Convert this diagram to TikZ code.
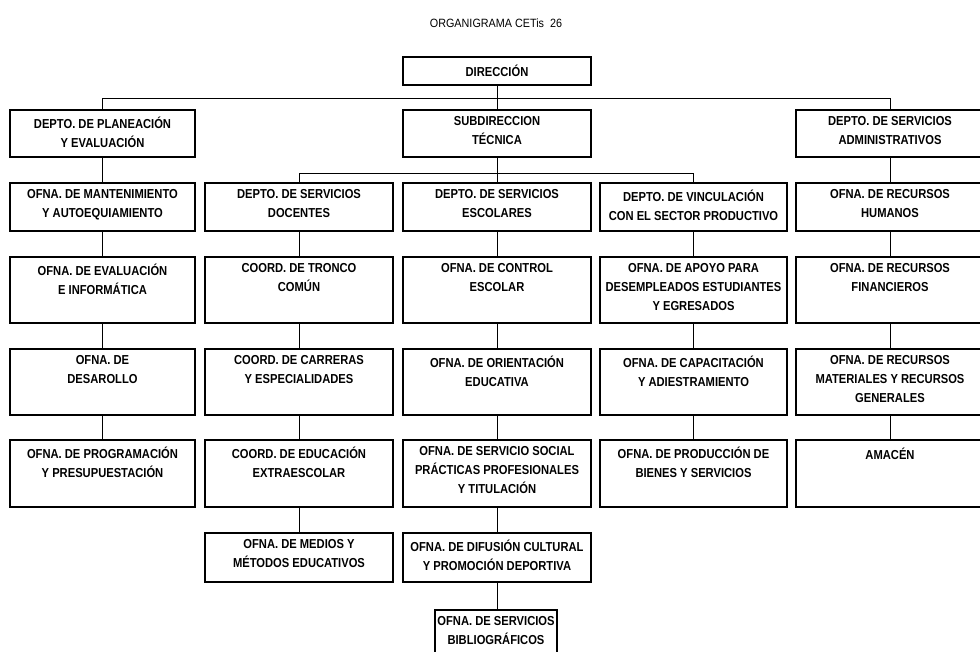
\documentclass[tikz,border=0pt]{standalone}
\usepackage{fontspec}
\setmainfont{Liberation Sans}
\newfontfamily\boxfont{Liberation Sans Bold}[FakeStretch=0.86]
\newfontfamily\titlefont{Liberation Sans}[FakeStretch=0.9]

% one box of the chart: name, centre x, centre y, width, height, text
\newcommand\orgbox[6]{%
  \node[box, minimum width=#4pt, minimum height=#5pt] (#1) at (#2,#3) {};
  \node[lbl] (#1-t) at ([yshift=-7pt]#1.north) {#6};
}

\tikzset{
  box/.style={draw=black, line width=1.3pt, fill=white, inner sep=0pt},
  lbl/.style={anchor=north, inner sep=0pt, align=center,
    font=\boxfont\fontsize{13}{19}\selectfont,
    execute at begin node={\rule{0pt}{13pt}}},
  conn/.style={draw=black, line width=1pt},
  titletext/.style={anchor=base, inner sep=0pt, font=\titlefont\fontsize{12}{14}\selectfont}
}

\begin{document}
\begin{tikzpicture}[x=1pt, y=-1pt]
\useasboundingbox (0,0) rectangle (980,651);
\fill[white] (0,0) rectangle (980,651);
\clip (0,0) rectangle (980,651);

\node[titletext] (title) at (496,27) {ORGANIGRAMA CETis\ \ 26};

% top levels
\orgbox{dir}{497}{71}{188}{28}{DIRECCIÓN}
\orgbox{plan}{102.5}{133.5}{185}{47}{DEPTO. DE PLANEACIÓN\\Y EVALUACIÓN}
\orgbox{subd}{497}{133.5}{188}{47}{SUBDIRECCION\\TÉCNICA}
\orgbox{admin}{890}{133.5}{188}{47}{DEPTO. DE SERVICIOS\\ADMINISTRATIVOS}

% column A
\orgbox{a1}{102.5}{207}{185}{48}{OFNA. DE MANTENIMIENTO\\Y AUTOEQUIAMIENTO}
\orgbox{a2}{102.5}{290}{185}{66}{OFNA. DE EVALUACIÓN\\E INFORMÁTICA}
\orgbox{a3}{102.5}{382}{185}{66}{OFNA. DE\\DESAROLLO}
\orgbox{a4}{102.5}{473.5}{185}{67}{OFNA. DE PROGRAMACIÓN\\Y PRESUPUESTACIÓN}

% column B
\orgbox{b1}{299}{207}{188}{48}{DEPTO. DE SERVICIOS\\DOCENTES}
\orgbox{b2}{299}{290}{188}{66}{COORD. DE TRONCO\\COMÚN}
\orgbox{b3}{299}{382}{188}{66}{COORD. DE CARRERAS\\Y ESPECIALIDADES}
\orgbox{b4}{299}{473.5}{188}{67}{COORD. DE EDUCACIÓN\\EXTRAESCOLAR}
\orgbox{b5}{299}{557.5}{188}{49}{OFNA. DE MEDIOS Y\\MÉTODOS EDUCATIVOS}

% column C
\orgbox{c1}{497}{207}{188}{48}{DEPTO. DE SERVICIOS\\ESCOLARES}
\orgbox{c2}{497}{290}{188}{66}{OFNA. DE CONTROL\\ESCOLAR}
\orgbox{c3}{497}{382}{188}{66}{OFNA. DE ORIENTACIÓN\\EDUCATIVA}
\orgbox{c4}{497}{473.5}{188}{67}{OFNA. DE SERVICIO SOCIAL\\PRÁCTICAS PROFESIONALES\\Y TITULACIÓN}
\orgbox{c5}{497}{557.5}{188}{49}{OFNA. DE DIFUSIÓN CULTURAL\\Y PROMOCIÓN DEPORTIVA}
\orgbox{c6}{496}{640}{122}{60}{OFNA. DE SERVICIOS\\BIBLIOGRÁFICOS}

% column D
\orgbox{d1}{693.5}{207}{187}{48}{DEPTO. DE VINCULACIÓN\\CON EL SECTOR PRODUCTIVO}
\orgbox{d2}{693.5}{290}{187}{66}{OFNA. DE APOYO PARA\\DESEMPLEADOS ESTUDIANTES\\Y EGRESADOS}
\orgbox{d3}{693.5}{382}{187}{66}{OFNA. DE CAPACITACIÓN\\Y ADIESTRAMIENTO}
\orgbox{d4}{693.5}{473.5}{187}{67}{OFNA. DE PRODUCCIÓN DE\\BIENES Y SERVICIOS}

% column E
\orgbox{e1}{890}{207}{188}{48}{OFNA. DE RECURSOS\\HUMANOS}
\orgbox{e2}{890}{290}{188}{66}{OFNA. DE RECURSOS\\FINANCIEROS}
\orgbox{e3}{890}{382}{188}{66}{OFNA. DE RECURSOS\\MATERIALES Y RECURSOS\\GENERALES}
\orgbox{e4}{890}{473.5}{188}{67}{AMACÉN}

% bus lines
\coordinate (bus1) at (0,98);
\coordinate (bus2) at (0,173);
\draw[conn] (plan.north) -- (plan.north |- bus1) -- (admin.north |- bus1) -- (admin.north);
\draw[conn] (dir.south) -- (subd.north);
\draw[conn] (b1.north) -- (b1.north |- bus2) -- (d1.north |- bus2) -- (d1.north);
\draw[conn] (subd.south) -- (c1.north);

% column chains
\draw[conn] (plan.south) -- (a1.north);
\draw[conn] (a1.south) -- (a2.north);
\draw[conn] (a2.south) -- (a3.north);
\draw[conn] (a3.south) -- (a4.north);
\draw[conn] (b1.south) -- (b2.north);
\draw[conn] (b2.south) -- (b3.north);
\draw[conn] (b3.south) -- (b4.north);
\draw[conn] (b4.south) -- (b5.north);
\draw[conn] (c1.south) -- (c2.north);
\draw[conn] (c2.south) -- (c3.north);
\draw[conn] (c3.south) -- (c4.north);
\draw[conn] (c4.south) -- (c5.north);
\draw[conn] (c5.south) -- (c5.south |- c6.north);
\draw[conn] (d1.south) -- (d2.north);
\draw[conn] (d2.south) -- (d3.north);
\draw[conn] (d3.south) -- (d4.north);
\draw[conn] (admin.south) -- (e1.north);
\draw[conn] (e1.south) -- (e2.north);
\draw[conn] (e2.south) -- (e3.north);
\draw[conn] (e3.south) -- (e4.north);
\end{tikzpicture}
\end{document}
